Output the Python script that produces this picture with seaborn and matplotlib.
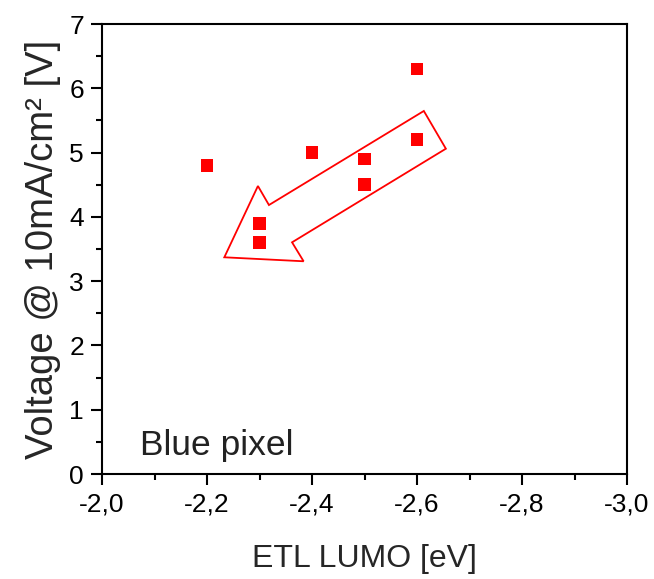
import matplotlib
matplotlib.use("Agg")
import matplotlib.pyplot as plt
import seaborn as sns
import pandas as pd
from matplotlib.patches import Polygon
from matplotlib.ticker import MultipleLocator, FuncFormatter

sns.set_style("ticks")
plt.rcParams['font.family'] = ['Liberation Sans', 'DejaVu Sans']

etl_lumo = [-2.2, -2.3, -2.3, -2.4, -2.5, -2.5, -2.6, -2.6]
voltage = [4.8, 3.9, 3.6, 5.0, 4.9, 4.5, 5.2, 6.3]
df = pd.DataFrame({"ETL LUMO [eV]": etl_lumo, "Voltage": voltage})

fig = plt.figure(figsize=(6.54, 5.79), dpi=100)
ax = fig.add_axes([102/654, 1-474/579, 525/654, 450/579])

sns.scatterplot(data=df, x="ETL LUMO [eV]", y="Voltage", ax=ax, marker="s",
                color="#ff0000", s=85, edgecolor="none", legend=False, zorder=3)

ax.set_xlim(-2.0, -3.0)
ax.set_ylim(0, 7)
ax.xaxis.set_major_locator(MultipleLocator(0.2))
ax.xaxis.set_minor_locator(MultipleLocator(0.1))
ax.yaxis.set_major_locator(MultipleLocator(1))
ax.yaxis.set_minor_locator(MultipleLocator(0.5))
ax.xaxis.set_major_formatter(FuncFormatter(lambda v, p: f"{v:.1f}".replace(".", ",")))

for s in ax.spines.values():
    s.set_linewidth(1.5)
    s.set_color("black")
ax.tick_params(which="major", length=8, width=1.5, labelsize=19, direction="out",
               color="black", labelcolor="black")
ax.tick_params(which="minor", length=4, width=1.5, direction="out", color="black")
ax.tick_params(axis="x", which="major", pad=5)
ax.tick_params(axis="y", which="major", pad=5)

ax.set_xlabel("ETL LUMO [eV]", fontsize=23, labelpad=20)
ax.set_ylabel("Voltage @ 10mA/cm² [V]", fontsize=27.5, labelpad=6)

ax.text(0.072, 0.042, "Blue pixel", transform=ax.transAxes, fontsize=25.5, color="#222222")

arrow_pts = [(-2.613, 5.647), (-2.655, 5.060), (-2.362, 3.604), (-2.384, 3.309),
             (-2.233, 3.371), (-2.297, 4.480), (-2.318, 4.184)]
ax.add_patch(Polygon(arrow_pts, closed=True, fill=False, edgecolor="#ff0000",
                     linewidth=1.3, zorder=2))

fig.savefig("out.png", dpi=100)
